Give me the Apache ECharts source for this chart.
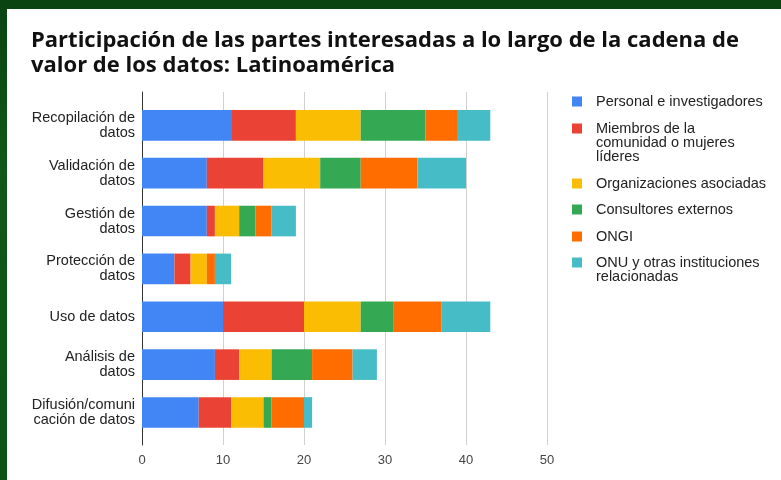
<!DOCTYPE html>
<html>
<head>
<meta charset="utf-8">
<script src="https://cdn.jsdelivr.net/npm/echarts@6/dist/echarts.min.js"></script>
<style>
  html, body { margin: 0; padding: 0; }
  body { width: 781px; height: 480px; position: relative; overflow: hidden;
         background: linear-gradient(180deg, #0a4411 0%, #0e5818 35%, #0d5316 100%); }
  #card { position: absolute; left: 7px; top: 9px; right: 0; bottom: 0; background: #ffffff; }
  #chart { position: absolute; left: 0; top: 0; width: 781px; height: 480px; }
</style>
</head>
<body>
<div id="card"></div>
<div id="chart"></div>
<script>
// Stages of the data value chain (top to bottom)
const stages = [
  'Recopilación de\ndatos',
  'Validación de\ndatos',
  'Gestión de\ndatos',
  'Protección de\ndatos',
  'Uso de datos',
  'Análisis de\ndatos',
  'Difusión/comuni\ncación de datos'
];

// Stakeholder groups
const groupNames = [
  'Personal e investigadores',
  'Miembros de la comunidad o mujeres líderes',
  'Organizaciones asociadas',
  'Consultores externos',
  'ONGI',
  'ONU y otras instituciones relacionadas'
];
// Wrapped legend labels
const groupLabels = [
  'Personal e investigadores',
  'Miembros de la\ncomunidad o mujeres\nlíderes',
  'Organizaciones asociadas',
  'Consultores externos',
  'ONGI',
  'ONU y otras instituciones\nrelacionadas'
];

// Number of mentions per stage, one array per group
const personal       = [11, 8, 8, 4, 10, 9, 7];
const miembros       = [8, 7, 1, 2, 10, 3, 4];
const organizaciones = [8, 7, 3, 2, 7, 4, 4];
const consultores    = [8, 5, 2, 0, 4, 5, 1];
const ongi           = [4, 7, 2, 1, 6, 5, 4];
const onu            = [4, 6, 3, 2, 6, 3, 1];

// Value axis ticks
const xTicks = [0, 10, 20, 30, 40, 50];

const groupValues = [personal, miembros, organizaciones, consultores, ongi, onu];
const colors = ['#4285F4', '#EA4335', '#FBBC04', '#34A853', '#FF6D01', '#46BDC6'];

const labelFont = '"Liberation Sans", Arial, sans-serif';
const legendLine = 14;
const legendFontSize = 14.5;
const legendIcon = 10;
// vertical centre of each legend swatch
const legendCenters = [101, 128, 183, 209, 236, 262];

// Legend text is centred on its swatch, so wrapped labels get leading blank
// lines to bring their first line level with the swatch.
const legends = groupNames.map(function (name, i) {
  const n = groupLabels[i].split('\n').length;
  const shown = new Array(n).join('\n') + groupLabels[i];
  const textTop = legendIcon / 2 - ((2 * n - 1) * legendLine) / 2;
  const boxTop = Math.min(0, textTop);
  return {
    data: [name],
    orient: 'vertical',
    left: 572,
    top: legendCenters[i] - legendIcon / 2 + boxTop,
    padding: 0,
    icon: 'rect',
    itemWidth: legendIcon,
    itemHeight: legendIcon,
    selectedMode: false,
    formatter: function () { return shown; },
    textStyle: {
      fontFamily: labelFont,
      fontSize: legendFontSize,
      color: '#222',
      lineHeight: legendLine,
      padding: [0, 0, 0, 9]
    }
  };
});

const chart = echarts.init(document.getElementById('chart'), null, { renderer: 'canvas' });

chart.setOption({
  backgroundColor: 'transparent',
  animation: false,
  color: colors,
  title: {
    text: 'Participación de las partes interesadas a lo largo de la cadena de\nvalor de los datos: Latinoamérica',
    left: 31,
    top: 28,
    padding: 0,
    textStyle: {
      fontFamily: '"Open Sans", sans-serif',
      fontWeight: 'bold',
      fontSize: 22,
      lineHeight: 25,
      color: '#111'
    }
  },
  legend: legends,
  grid: [
    // frame grid: gridlines, tick labels and the vertical axis line
    { left: 142, top: 92, width: 405, height: 353 },
    // bar grid
    { left: 142, top: 101.4, width: 405, height: 335 }
  ],
  xAxis: [
    {
      type: 'value', gridIndex: 0, min: xTicks[0], max: xTicks[xTicks.length - 1], interval: 10,
      axisLine: { show: false }, axisTick: { show: false },
      splitLine: { lineStyle: { color: '#d0d0d0', width: 1 } },
      axisLabel: { fontFamily: labelFont, fontSize: 13, color: '#444', margin: 9 }
    },
    {
      type: 'value', gridIndex: 1, min: xTicks[0], max: xTicks[xTicks.length - 1], show: false
    }
  ],
  yAxis: [
    {
      type: 'value', gridIndex: 0, min: 0, max: 1,
      axisLine: { show: true, lineStyle: { color: '#333', width: 1 } },
      axisTick: { show: false }, axisLabel: { show: false }, splitLine: { show: false }
    },
    {
      type: 'category', gridIndex: 1, data: stages, inverse: true,
      axisLine: { show: false }, axisTick: { show: false },
      axisLabel: { fontFamily: labelFont, fontSize: 14.5, color: '#222', lineHeight: 15, margin: 7, align: 'right' }
    }
  ],
  series: groupNames.map(function (name, i) {
    return {
      name: name,
      type: 'bar',
      stack: 'total',
      xAxisIndex: 1,
      yAxisIndex: 1,
      barWidth: '64%',
      data: groupValues[i],
      itemStyle: { color: colors[i] }
    };
  })
});
</script>
</body>
</html>
